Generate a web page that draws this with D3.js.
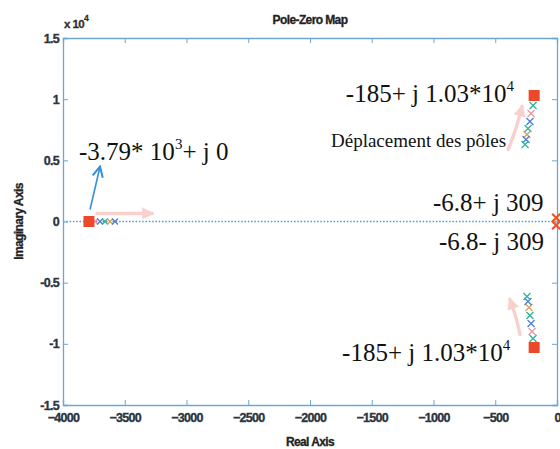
<!DOCTYPE html>
<html>
<head>
<meta charset="utf-8">
<script src="https://cdn.jsdelivr.net/npm/d3@7"></script>
<style>
  html, body { margin: 0; padding: 0; background: #fff; }
  svg { display: block; }
</style>
</head>
<body>
<svg id="chart" width="560" height="449"></svg>
<script>
// ---------- data ----------
const xTicks = [-4000, -3500, -3000, -2500, -2000, -1500, -1000, -500, 0];
const yTicks = [-15000, -10000, -5000, 0, 5000, 10000, 15000];
const yTickLabels = ["-1.5", "-1", "-0.5", "0", "0.5", "1", "1.5"];

// dominant poles (final positions, red squares)
const squarePoles = [
  { re: -3790, im: 0 },
  { re: -185, im: 10300 },
  { re: -185, im: -10300 }
];
// slow poles near origin (red crosses)
const originPoles = [
  { re: -6.8, im: 309 },
  { re: -6.8, im: -309 }
];
// pole trajectories (crosses, coloured per step)
const trackReal = [
  { re: -3781, im: 0 }, { re: -3741, im: 0 }, { re: -3700, im: 0 },
  { re: -3660, im: 0 }, { re: -3619, im: 0 }, { re: -3579, im: 0 }
];
const trackUpper = [
  { re: -194, im: 9477 }, { re: -210, im: 8824 }, { re: -219, im: 8170 },
  { re: -235, im: 7598 }, { re: -243, im: 7108 }, { re: -251, im: 6699 },
  { re: -259, im: 6291 }
];
const trackLower = [
  { re: -194, im: -9559 }, { re: -202, im: -8987 }, { re: -210, im: -8333 },
  { re: -219, im: -7680 }, { re: -227, im: -7026 }, { re: -235, im: -6536 },
  { re: -243, im: -6127 }
];
const stepColors = ["#2fb39a", "#e79aa8", "#4f7fd6", "#2fb39a", "#d9a05b", "#4f7fd6", "#2fb39a"];

// annotation arrows (data coordinates)
const arrowBlue = [{ re: -3781, im: 980 }, { re: -3700, im: 4493 }];
const arrowPinkLeft = [{ re: -3725, im: 654 }, { re: -3279, im: 654 }];
const arrowPinkTop = [{ re: -395, im: 5900 }, { re: -330, im: 7600 }, { re: -283, im: 9395 }];
const arrowPinkBottom = [{ re: -300, im: -9232 }, { re: -330, im: -7800 }, { re: -381, im: -6373 }];

// text annotations (data-space anchors)
const labels = [
  { re: -1710, im: 9800, parts: [["-185+ j 1.03*10", 0], ["4", 1]], size: 25 },
  { re: -1830, im: 6130, parts: [["Déplacement des pôles", 0]], size: 19 },
  { re: -3870, im: 5065, parts: [["-3.79* 10", 0], ["3", 1], ["+ j 0", 2]], size: 25 },
  { re: -1004, im: 820, parts: [["-6.8+ j 309", 0]], size: 25 },
  { re: -955, im: -2290, parts: [["-6.8- j 309", 0]], size: 25 },
  { re: -1740, im: -11440, parts: [["-185+ j 1.03*10", 0], ["4", 1]], size: 25 }
];

// ---------- layout ----------
const svg = d3.select("#chart");
const L = 63, T = 38, R = 557, B = 405;
const x = d3.scaleLinear().domain([-4000, 0]).range([L, R]);
const y = d3.scaleLinear().domain([-15000, 15000]).range([B, T]);
const axisColor = "#6fa6cc";
const tickFont = "'Liberation Sans', Arial, sans-serif";

// defs for arrows
const defs = svg.append("defs");
defs.append("marker").attr("id", "headBlue").attr("viewBox", "0 0 10 10")
  .attr("refX", 9).attr("refY", 5).attr("markerWidth", 8).attr("markerHeight", 8)
  .attr("orient", "auto")
  .append("path").attr("d", "M1,1 L9,5 L1,9").attr("fill", "none")
  .attr("stroke", "#3b8fd6").attr("stroke-width", 1.6);
defs.append("marker").attr("id", "headPink").attr("viewBox", "0 0 10 10")
  .attr("refX", 8).attr("refY", 5).attr("markerWidth", 3.5).attr("markerHeight", 3.5)
  .attr("orient", "auto")
  .append("path").attr("d", "M0,0 L10,5 L0,10 Z").attr("fill", "#f4b4b0");
defs.append("filter").attr("id", "soft").append("feGaussianBlur").attr("stdDeviation", 0.5);

// zero line (dotted)
svg.append("line")
  .attr("x1", x(-4000)).attr("x2", x(0)).attr("y1", y(0)).attr("y2", y(0))
  .attr("stroke", "#4a9bd0").attr("stroke-width", 1.4).attr("stroke-dasharray", "1.5,1.8");

// axes box
const gAxes = svg.append("g");
const axB = d3.axisBottom(x).tickValues(xTicks).tickSize(-5).tickPadding(8).tickFormat(d3.format("d"));
const axT = d3.axisTop(x).tickValues(xTicks).tickSize(-5).tickFormat("");
const axLft = d3.axisLeft(y).tickValues(yTicks).tickSize(-5).tickPadding(4)
  .tickFormat(d => yTickLabels[yTicks.indexOf(d)]);
const axRgt = d3.axisRight(y).tickValues(yTicks).tickSize(-5).tickFormat("");

function styleAxis(g) {
  g.attr("font-family", tickFont);
  g.selectAll(".domain").attr("stroke", axisColor).attr("stroke-width", 1.3);
  g.selectAll(".tick line").attr("stroke", axisColor);
  g.selectAll(".tick text").attr("fill", "#2b3440")
    .attr("font-weight", "bold").attr("font-size", 12.5).attr("letter-spacing", -0.7)
    .attr("stroke", "#2b3440").attr("stroke-width", 0.35);
}
gAxes.append("g").attr("transform", `translate(0,${B})`).call(axB).call(styleAxis);
gAxes.append("g").attr("transform", `translate(0,${T})`).call(axT).call(styleAxis);
gAxes.append("g").attr("transform", `translate(${L},0)`).call(axLft).call(styleAxis);
gAxes.append("g").attr("transform", `translate(${R},0)`).call(axRgt).call(styleAxis);

// title, axis labels, exponent
function boldLabel(sel) {
  return sel.attr("font-family", tickFont).attr("font-weight", "bold").attr("font-size", 12)
    .attr("letter-spacing", -0.6).attr("fill", "#222").attr("stroke", "#222").attr("stroke-width", 0.3);
}
svg.append("text").attr("x", (L + R) / 2).attr("y", 24).attr("text-anchor", "middle")
  .call(boldLabel).text("Pole-Zero Map");
svg.append("text").attr("x", (L + R) / 2).attr("y", 446).attr("text-anchor", "middle")
  .call(boldLabel).text("Real Axis");
svg.append("text").attr("transform", `translate(23,${(T + B) / 2}) rotate(-90)`)
  .attr("text-anchor", "middle").call(boldLabel).text("Imaginary Axis");
const ex = svg.append("text").attr("x", L + 1).attr("y", 28).call(boldLabel)
  .attr("font-size", 11.5).attr("fill", "#333");
ex.append("tspan").text("x 10");
ex.append("tspan").attr("dy", -7).attr("font-size", 8.5).text("4");

// pink movement arrows (translucent)
const line = d3.line().x(d => x(d.re)).y(d => y(d.im)).curve(d3.curveBasis);
[arrowPinkLeft, arrowPinkTop, arrowPinkBottom].forEach(a => {
  svg.append("path").attr("d", line(a)).attr("fill", "none")
    .attr("stroke", "#f4b4b0").attr("stroke-width", 3.5).attr("opacity", 0.6)
    .attr("stroke-linecap", "round").attr("marker-end", "url(#headPink)");
});
// blue arrow
svg.append("path").attr("d", line(arrowBlue)).attr("fill", "none")
  .attr("stroke", "#3b8fd6").attr("stroke-width", 1.6).attr("marker-end", "url(#headBlue)");

// trajectory crosses
function crosses(data, size) {
  const s = size / 2;
  svg.append("g").selectAll("path").data(data).join("path")
    .attr("d", d => `M${x(d.re) - s},${y(d.im) - s}L${x(d.re) + s},${y(d.im) + s}M${x(d.re) - s},${y(d.im) + s}L${x(d.re) + s},${y(d.im) - s}`)
    .attr("stroke", (d, i) => stepColors[i % stepColors.length])
    .attr("stroke-width", 1.3).attr("fill", "none");
}
crosses(trackReal, 6);
crosses(trackUpper, 7);
crosses(trackLower, 7);

// red square poles
svg.append("g").selectAll("rect").data(squarePoles).join("rect")
  .attr("x", d => x(d.re) - 5.5).attr("y", d => y(d.im) - 5.5)
  .attr("width", 11).attr("height", 11).attr("fill", "#ec4a2c").attr("filter", "url(#soft)");

// red crosses near origin
svg.append("g").selectAll("path").data(originPoles).join("path")
  .attr("d", d => `M${x(d.re) - 4},${y(d.im) - 4}L${x(d.re) + 4},${y(d.im) + 4}M${x(d.re) - 4},${y(d.im) + 4}L${x(d.re) + 4},${y(d.im) - 4}`)
  .attr("stroke", "#e8542e").attr("stroke-width", 2.2);

// text annotations
const serif = "'Times New Roman', 'Liberation Serif', serif";
labels.forEach(lb => {
  const t = svg.append("text").attr("x", x(lb.re)).attr("y", y(lb.im))
    .attr("font-family", serif).attr("font-size", lb.size).attr("fill", "#111");
  lb.parts.forEach(([s, kind]) => {
    const sp = t.append("tspan").text(s);
    if (kind === 1) sp.attr("dy", -11).attr("font-size", lb.size * 0.6);
    if (kind === 2) sp.attr("dy", 11);
  });
});
</script>
</body>
</html>
